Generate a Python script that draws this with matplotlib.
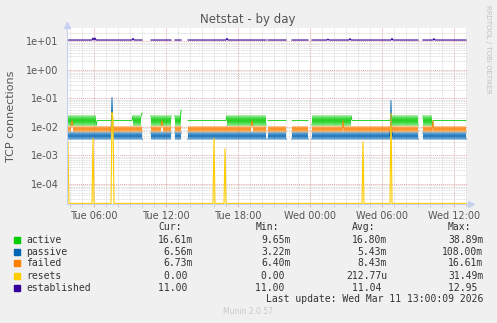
import numpy as np
import matplotlib
matplotlib.use("Agg")
from matplotlib import pyplot as plt
from matplotlib.patches import Rectangle
from matplotlib.ticker import FixedLocator, LogLocator, NullFormatter

W, H = 497, 323

# 5 minute samples from Tue 03:45 (one pixel each in the original graph)
n_samples = 400
start_hour = 3.75

# (first sample, end sample, state)
segments = [
    (0, 30, "busy"), (30, 66, "idle"), (66, 76, "busy"), (76, 84, "gap"),
    (84, 105, "busy"), (105, 108, "gap"), (108, 115, "busy"), (115, 121, "gap"),
    (121, 160, "idle"), (160, 200, "busy"), (200, 201, "gap"), (201, 220, "idle"),
    (220, 225, "gap"), (225, 242, "idle"), (242, 245, "gap"), (245, 285, "busy"),
    (285, 324, "idle"), (324, 352, "busy"), (352, 356, "gap"), (356, 366, "busy"),
    (366, 400, "idle"),
]

# while busy the series flip between a high and a low sample
tooth = ["hi", "lo"]

# levels of each series: (high, low, flat value when idle)
active_levels = (0.0250, 0.0110, 0.0166)
passive_levels = (0.0066, 0.0036, None)
failed_levels = (0.0105, 0.0067, None)
established_level = 11.0

# single samples that stand out
active_spikes = {75: 0.030, 114: 0.0389}
passive_spikes = {45: 0.108, 324: 0.085}
failed_spikes = {5: 0.0166, 95: 0.0166, 185: 0.0166, 276: 0.0166, 366: 0.0166}
resets_spikes = {1: 0.003, 26: 0.004, 45: 0.0315, 46: 0.02, 147: 0.004,
                 158: 0.0017, 296: 0.003, 324: 0.030}
established_spikes = {26: 12.95, 28: 12.95, 66: 12.5, 160: 12.5, 261: 11.8,
                      283: 12.3, 325: 12.5, 367: 12.3}

names = ["active", "passive", "failed", "resets", "established"]
colors = ["#00cc00", "#0066b3", "#ff8000", "#ffcc00", "#330099"]
cur_vals = ["16.61m", "6.56m", "6.73m", "0.00", "11.00"]
min_vals = ["9.65m", "3.22m", "6.40m", "0.00", "11.00"]
avg_vals = ["16.80m", "5.43m", "8.43m", "212.77u", "11.04"]
max_vals = ["38.89m", "108.00m", "16.61m", "31.49m", "12.95"]

xtick_hours = [6, 12, 18, 24, 30, 36]
xtick_labels = ["Tue 06:00", "Tue 12:00", "Tue 18:00", "Wed 00:00", "Wed 06:00", "Wed 12:00"]
ytick_values = [1e-4, 1e-3, 1e-2, 1e-1, 1e0, 1e1]
ytick_labels = ["1e-04", "1e-03", "1e-02", "1e-01", "1e+00", "1e+01"]
ymin, ymax = 2.0e-5, 29.0


def build(hi, lo, idle=None, spikes=None):
    level = {"hi": hi, "lo": lo}
    vals = np.full(n_samples, np.nan)
    for start, end, state in segments:
        for i in range(start, end):
            if state == "gap":
                continue
            if state == "idle" and idle is not None:
                vals[i] = idle
            else:
                vals[i] = level[tooth[i % len(tooth)]]
    for i, v in (spikes or {}).items():
        vals[i] = v
    return vals


def build_flat(level, spikes):
    vals = np.full(n_samples, np.nan)
    for start, end, state in segments:
        if state != "gap":
            vals[start:end] = level
    for i, v in spikes.items():
        vals[i] = v
    return vals


hours = start_hour + np.arange(n_samples) / 12.0
active = build(*active_levels, spikes=active_spikes)
passive = build(*passive_levels, spikes=passive_spikes)
failed = build(*failed_levels, spikes=failed_spikes)
resets = build_flat(0.0, resets_spikes)
established = build_flat(established_level, established_spikes)

fig = plt.figure(figsize=(W / 100, H / 100), dpi=100, facecolor="#f0f0f0")
ax = fig.add_axes([67 / W, 1 - 204 / H, 400 / W, 176 / H])
ax.set_facecolor("white")
ax.set_yscale("log")

lw = 0.6
ax.plot(hours, active, color=colors[0], lw=lw)
ax.plot(hours, passive, color=colors[1], lw=lw)
ax.plot(hours, failed, color=colors[2], lw=lw)
# zero resets sit on the floor of the log axis
ax.plot(hours, np.where(resets > 0, resets, ymin * 1.05), color=colors[3], lw=0.8)
ax.plot(hours, established, color=colors[4], lw=0.8)

ax.set_xlim(start_hour, start_hour + n_samples / 12.0)
ax.set_ylim(ymin, ymax)

ax.xaxis.set_major_locator(FixedLocator(xtick_hours))
ax.set_xticklabels(xtick_labels)
ax.xaxis.set_minor_locator(FixedLocator(np.arange(4, 38)))
ax.yaxis.set_major_locator(FixedLocator(ytick_values))
ax.set_yticklabels(ytick_labels)
ax.yaxis.set_minor_locator(LogLocator(base=10, subs=np.arange(2, 10)))
ax.yaxis.set_minor_formatter(NullFormatter())

ax.grid(True, which="minor", color="#d4d4d4", ls=(0, (1, 1)), lw=0.6)
ax.grid(True, which="major", color="#e8a8a8", ls=(0, (1, 1)), lw=0.7)
ax.set_axisbelow(True)

ax.tick_params(which="both", length=2, width=0.6, color="#e0a0a0",
               labelsize=7, labelcolor="#555555", pad=3)
ax.tick_params(which="minor", color="#c8c8c8")
ax.tick_params(axis="y", which="both", length=0, pad=6)

for side in ["top", "right"]:
    ax.spines[side].set_visible(False)
for side in ["left", "bottom"]:
    ax.spines[side].set_color("#c8d0f0")
    ax.spines[side].set_linewidth(0.8)

ax.plot([0], [1.015], marker="^", ms=4, color="#c8d0f0", transform=ax.transAxes, clip_on=False)
ax.plot([1.01], [0], marker=">", ms=4, color="#c8d0f0", transform=ax.transAxes, clip_on=False)

fig.text(248 / W, 1 - 19 / H, "Netstat - by day", ha="center", va="center",
         fontsize=8.5, color="#555555")
fig.text(11 / W, 1 - 116 / H, "TCP connections", rotation=90, ha="center", va="center",
         fontsize=8, color="#555555")
fig.text(488 / W, 1 - 5 / H, "RRDTOOL / TOBI OETIKER", rotation=270, ha="center", va="top",
         fontsize=5, color="#c0c0c0")

# legend table
mono = "DejaVu Sans Mono"
cw = 5.85
col_right = [193, 290.5, 387, 483]
headers = ["Cur:", "Min:", "Avg:", "Max:"]
for x, h in zip(col_right, headers):
    fig.text((x - 6 * cw) / W, 1 - 227 / H, h, ha="left", va="center",
             fontsize=7, family=mono, color="#333333")

row_y = [239.7, 251.7, 263.3, 275.7, 287.7]
for k, name in enumerate(names):
    y = row_y[k]
    fig.add_artist(Rectangle((14 / W, 1 - (y + 3) / H), 6 / W, 6 / H,
                             transform=fig.transFigure, color=colors[k]))
    fig.text(26 / W, 1 - y / H, name, ha="left", va="center",
             fontsize=7, family=mono, color="#333333")
    for x, col in zip(col_right, [cur_vals, min_vals, avg_vals, max_vals]):
        s = col[k]
        if s[-1].isdigit():
            s = s + " "
        fig.text((x - len(s) * cw) / W, 1 - y / H, s, ha="left", va="center",
                 fontsize=7, family=mono, color="#333333")

fig.text(483 / W, 1 - 299.3 / H, "Last update: Wed Mar 11 13:00:09 2026", ha="right",
         va="center", fontsize=7, family=mono, color="#333333")
fig.text(248 / W, 1 - 311.7 / H, "Munin 2.0.57", ha="center", va="center",
         fontsize=5.5, color="#c8c8c8")

fig.savefig("out.png", dpi=100, facecolor=fig.get_facecolor())
